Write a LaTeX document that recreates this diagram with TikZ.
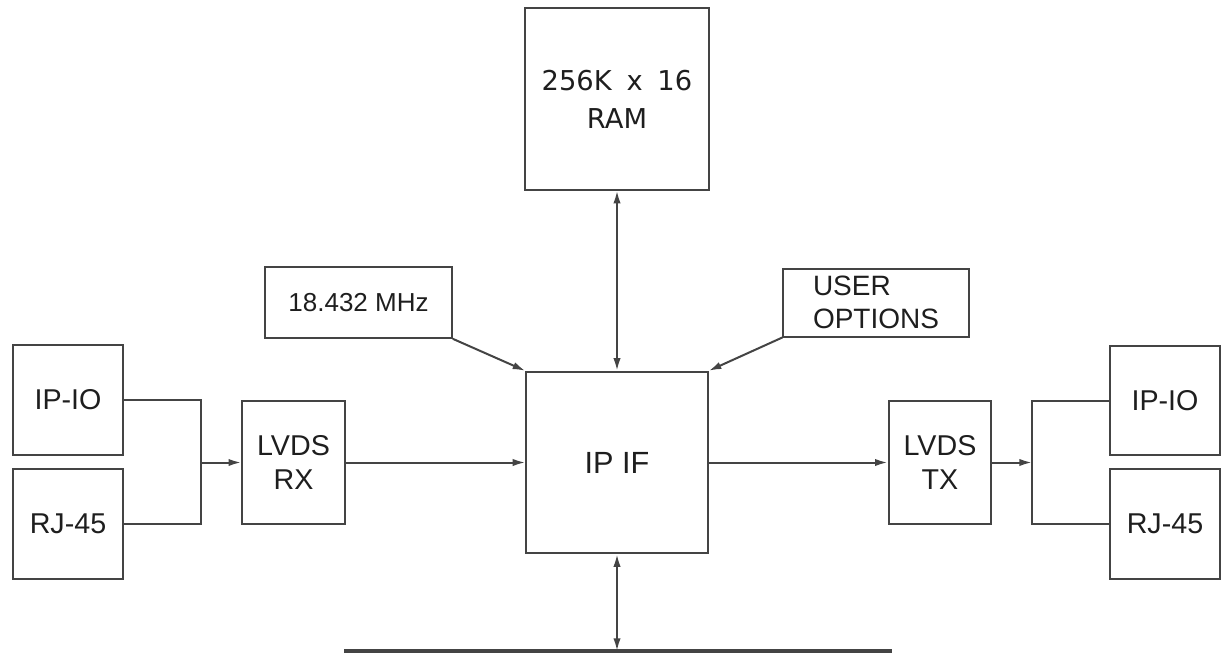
\documentclass[tikz,border=0pt]{standalone}
\usepackage{fontspec}
\setmainfont{Liberation Sans}
\newfontfamily\ramfont[WordSpace=1.7]{DejaVu Sans}
\usepackage{xcolor}
\usepackage{tikz}
\usetikzlibrary{arrows.meta,positioning,calc}
\definecolor{Wire}{HTML}{444444}
\definecolor{Ink}{HTML}{1E1E1E}
\begin{document}
\begin{tikzpicture}[
  x=0.75pt,y=-0.75pt,
  every node/.style={font=\fontsize{21.5}{26}\selectfont,align=center,text=Ink},
  blk/.style={draw=Wire,line width=1.5pt,inner sep=2pt},
  io/.style={blk,minimum width=82.5pt,minimum height=82pt},
  lvds/.style={blk,minimum width=77pt,minimum height=92pt},
  arr/.style={-{Latex[length=9.5pt,width=5.5pt]},line width=1.5pt,Wire},
  biarr/.style={{Latex[length=9.5pt,width=5.5pt]}-{Latex[length=9.5pt,width=5.5pt]},line width=1.5pt,Wire},
  wire/.style={line width=1.5pt,Wire}
]
\useasboundingbox (0,0) rectangle (1222,653);
\node[blk,minimum width=136pt,minimum height=136pt,font=\fontsize{23}{28}\selectfont] (ipif) at (617,462.5) {IP IF};
\node[blk,minimum width=138pt,minimum height=136pt,font=\ramfont\fontsize{20.5}{28.5}\selectfont] (ram) at (617,99) {256K x 16\\RAM};
\node[blk,minimum width=140pt,minimum height=53pt,font=\fontsize{19.5}{24}\selectfont] (clk) at (358.5,302.5) {18.432 MHz};
\node[blk,minimum width=139pt,minimum height=51pt,align=left,font=\fontsize{21}{24.75}\selectfont] (opts) at (876,302.5) {USER\\OPTIONS};
\node[lvds] (rx) at (293.5,462.5) {LVDS\\RX};
\node[lvds] (tx) at (940,462.5) {LVDS\\TX};
\node[io] (ioL) at (68,400) {IP-IO};
\node[io] (rjL) at (68,524) {RJ-45};
\node[io] (ioR) at (1165,400.5) {IP-IO};
\node[io] (rjR) at (1165,524) {RJ-45};
\coordinate (jl) at (201,462.5);
\coordinate (jr) at (1032,462.5);
\coordinate (busL) at (344,651);
\coordinate (busR) at (892,651);
% left inputs
\draw[wire] (ioL.east) -| (jl) |- (rjL.east);
\draw[arr] (jl)--(rx.west); \draw[arr] (rx)--(ipif);
% right outputs
\draw[arr] (ipif)--(tx); \draw[arr] (tx.east)--(jr);
\draw[wire] (ioR.west) -| (jr) |- (rjR.west);
% clock, options, memory
\draw[arr] (clk.south east)--(ipif.north west);
\draw[arr] (opts.south west)--(ipif.north east);
\draw[biarr] (ram)--(ipif);
% bus
\draw[Wire,line width=2.4pt] (busL)--(busR);
\draw[biarr] (ipif.south)--(ipif.south |- busL);
\end{tikzpicture}
\end{document}
